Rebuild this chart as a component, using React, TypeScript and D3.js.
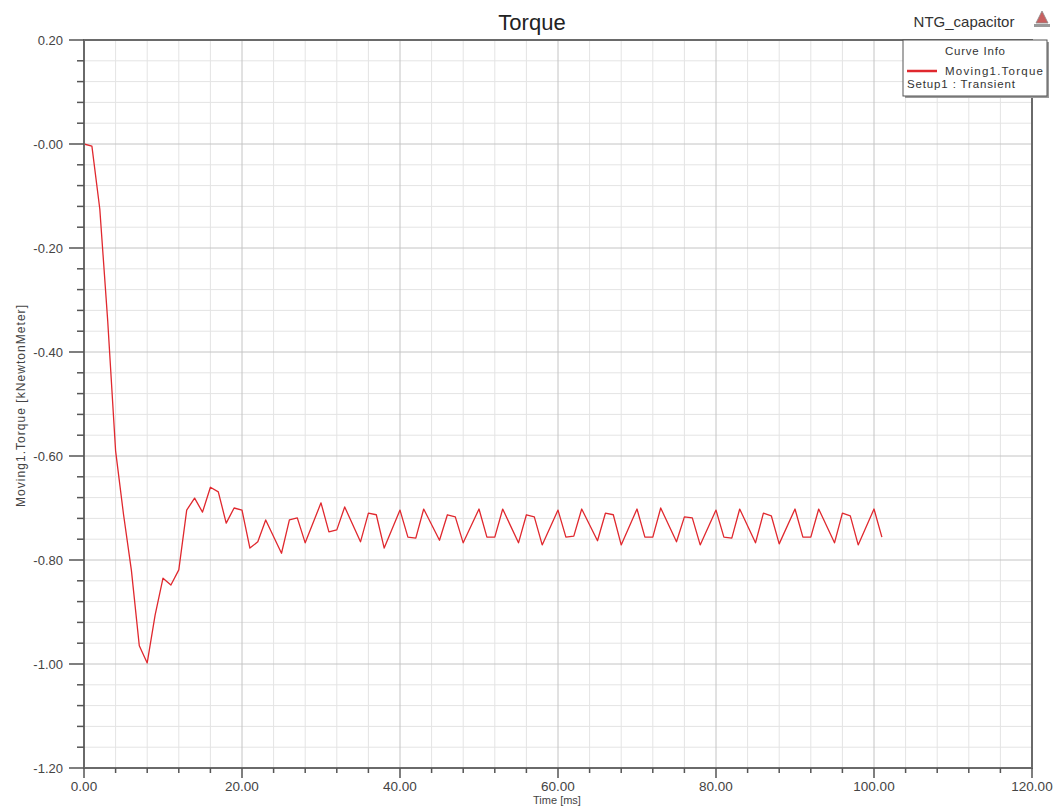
import React from "react";
import * as d3 from "d3";

// Transient torque of Moving1 (kNewtonMeter) over time (ms)
const timeMs = [
  0, 1, 2, 3, 4, 5, 6, 7, 8, 9, 10, 11, 12, 13, 14, 15, 16, 17, 18, 19, 20,
  21, 22, 23, 25, 26, 27, 28, 30, 31, 32, 33, 35, 36, 37, 38, 40, 41, 42, 43,
  45, 46, 47, 48, 50, 51, 52, 53, 55, 56, 57, 58, 60, 61, 62, 63, 65, 66, 67,
  68, 70, 71, 72, 73, 75, 76, 77, 78, 80, 81, 82, 83, 85, 86, 87, 88, 90, 91,
  92, 93, 95, 96, 97, 98, 100, 101,
];
const torque = [
  0.0, -0.004, -0.125, -0.34, -0.59, -0.712, -0.82, -0.965, -0.998, -0.906,
  -0.835, -0.848, -0.819, -0.704, -0.681, -0.708, -0.66, -0.669, -0.729, -0.7,
  -0.704, -0.777, -0.765, -0.723, -0.787, -0.723, -0.719, -0.767, -0.69,
  -0.746, -0.742, -0.698, -0.765, -0.71, -0.713, -0.777, -0.704, -0.756,
  -0.758, -0.702, -0.762, -0.713, -0.717, -0.767, -0.702, -0.756, -0.756,
  -0.702, -0.767, -0.713, -0.717, -0.771, -0.704, -0.756, -0.754, -0.702,
  -0.763, -0.71, -0.713, -0.771, -0.702, -0.756, -0.756, -0.7, -0.765, -0.717,
  -0.719, -0.771, -0.704, -0.756, -0.758, -0.702, -0.767, -0.71, -0.715,
  -0.769, -0.702, -0.756, -0.756, -0.702, -0.767, -0.71, -0.715, -0.771,
  -0.702, -0.756,
];

const xTickValues = [0, 20, 40, 60, 80, 100, 120];
const xTickLabels = ["0.00", "20.00", "40.00", "60.00", "80.00", "100.00", "120.00"];
const yTickValues = [0.2, 0, -0.2, -0.4, -0.6, -0.8, -1.0, -1.2];
const yTickLabels = ["0.20", "-0.00", "-0.20", "-0.40", "-0.60", "-0.80", "-1.00", "-1.20"];

const chartTitle = "Torque";
const projectName = "NTG_capacitor";
const legendHeader = "Curve Info";
const seriesName = "Moving1.Torque";
const setupName = "Setup1 : Transient";
const xAxisTitle = "Time [ms]";
const yAxisTitle = "Moving1.Torque [kNewtonMeter]";

const W = 1060;
const H = 809;
const M = { left: 84, right: 1032, top: 40, bottom: 768 };
const FONT = "'Liberation Sans', Arial, Helvetica, sans-serif";
const CURVE = "#e0282e";

export default function App() {
  const x = d3.scaleLinear().domain([0, 120]).range([M.left, M.right]);
  const y = d3.scaleLinear().domain([-1.2, 0.2]).range([M.bottom, M.top]);

  const xMinor = d3.range(0, 120.001, 4).filter((v) => Math.round(v) % 20 !== 0);
  const yMinor = d3
    .range(-1.2, 0.2001, 0.04)
    .map((v) => Math.round(v * 100) / 100)
    .filter((v) => Math.abs(Math.round(v * 100)) % 20 !== 0);

  const points: [number, number][] = timeMs.map((t, i) => [t, torque[i]]);
  const line = d3
    .line<[number, number]>()
    .x((d) => x(d[0]))
    .y((d) => y(d[1]));

  const legendX = 903;
  const legendY = 40;
  const legendW = 144;
  const legendH = 56;

  return (
    <svg
      width={W}
      height={H}
      style={{ position: "absolute", left: 0, top: 0, background: "#fff" }}
      fontFamily={FONT}
    >
      <rect x={0} y={0} width={W} height={H} fill="#fff" />

      {/* minor grid */}
      {xMinor.map((v) => (
        <line key={"gx" + v} x1={x(v)} x2={x(v)} y1={M.top} y2={M.bottom} stroke="#e4e4e4" strokeWidth={1} />
      ))}
      {yMinor.map((v) => (
        <line key={"gy" + v} x1={M.left} x2={M.right} y1={y(v)} y2={y(v)} stroke="#e4e4e4" strokeWidth={1} />
      ))}
      {/* major grid */}
      {xTickValues.map((v) => (
        <line key={"Gx" + v} x1={x(v)} x2={x(v)} y1={M.top} y2={M.bottom} stroke="#c4c4c4" strokeWidth={1} />
      ))}
      {yTickValues.map((v) => (
        <line key={"Gy" + v} x1={M.left} x2={M.right} y1={y(v)} y2={y(v)} stroke="#c4c4c4" strokeWidth={1} />
      ))}

      {/* curve */}
      <path d={line(points) || ""} fill="none" stroke={CURVE} strokeWidth={1.3} strokeLinejoin="round" />

      {/* frame */}
      <rect
        x={M.left}
        y={M.top}
        width={M.right - M.left}
        height={M.bottom - M.top}
        fill="none"
        stroke="#6a6a6a"
        strokeWidth={2}
      />

      {/* y ticks */}
      {yMinor.map((v) => (
        <line key={"ty" + v} x1={M.left - 7} x2={M.left} y1={y(v)} y2={y(v)} stroke="#555" strokeWidth={1.5} />
      ))}
      {yTickValues.map((v, i) => (
        <g key={"TY" + v}>
          <line x1={M.left - 15} x2={M.left} y1={y(v)} y2={y(v)} stroke="#555" strokeWidth={1.5} />
          <text x={M.left - 21} y={y(v)} dy="0.35em" textAnchor="end" fontSize={13} fill="#444">
            {yTickLabels[i]}
          </text>
        </g>
      ))}

      {/* x ticks */}
      {xMinor.map((v) => (
        <line key={"tx" + v} x1={x(v)} x2={x(v)} y1={M.bottom} y2={M.bottom + 5} stroke="#555" strokeWidth={1.5} />
      ))}
      {xTickValues.map((v, i) => (
        <g key={"TX" + v}>
          <line x1={x(v)} x2={x(v)} y1={M.bottom} y2={M.bottom + 10} stroke="#555" strokeWidth={1.5} />
          <text x={x(v)} y={M.bottom + 23} textAnchor="middle" fontSize={13.5} fill="#444">
            {xTickLabels[i]}
          </text>
        </g>
      ))}

      {/* axis titles */}
      <text x={(M.left + M.right) / 2 - 1} y={804} textAnchor="middle" fontSize={11} fill="#444">
        {xAxisTitle}
      </text>
      <text
        transform={`translate(25, ${(M.top + M.bottom) / 2 + 2}) rotate(-90)`}
        textAnchor="middle"
        fontSize={12}
        textLength={202}
        lengthAdjust="spacing"
        fill="#444"
      >
        {yAxisTitle}
      </text>

      {/* title */}
      <text x={W / 2 + 2} y={30} textAnchor="middle" fontSize={22} fill="#222">
        {chartTitle}
      </text>
      <text x={964} y={27} textAnchor="middle" fontSize={15} fill="#333">
        {projectName}
      </text>
      {/* small vendor mark */}
      <g transform="translate(1042, 11)">
        <path d="M0,0 L6,12 L-6,12 Z" fill="#c86060" stroke="#8a8a8a" strokeWidth={0.8} />
        <rect x={-8} y={13} width={16} height={3} fill="#9a9a9a" />
      </g>

      {/* legend */}
      <rect x={legendX + 2} y={legendY + 2} width={legendW} height={legendH} fill="#9a9a9a" />
      <rect x={legendX} y={legendY} width={legendW} height={legendH} fill="#fff" stroke="#555" strokeWidth={1} />
      <text
        x={legendX + 42}
        y={legendY + 15}
        fontSize={11.5}
        textLength={60}
        lengthAdjust="spacing"
        fill="#333"
      >
        {legendHeader}
      </text>
      <line x1={legendX + 4} x2={legendX + 34} y1={legendY + 31} y2={legendY + 31} stroke={CURVE} strokeWidth={2.5} />
      <text
        x={legendX + 42}
        y={legendY + 35}
        fontSize={11.5}
        textLength={98}
        lengthAdjust="spacing"
        fill="#333"
      >
        {seriesName}
      </text>
      <text
        x={legendX + 4}
        y={legendY + 48}
        fontSize={11.5}
        textLength={108}
        lengthAdjust="spacing"
        fill="#333"
      >
        {setupName}
      </text>
    </svg>
  );
}
